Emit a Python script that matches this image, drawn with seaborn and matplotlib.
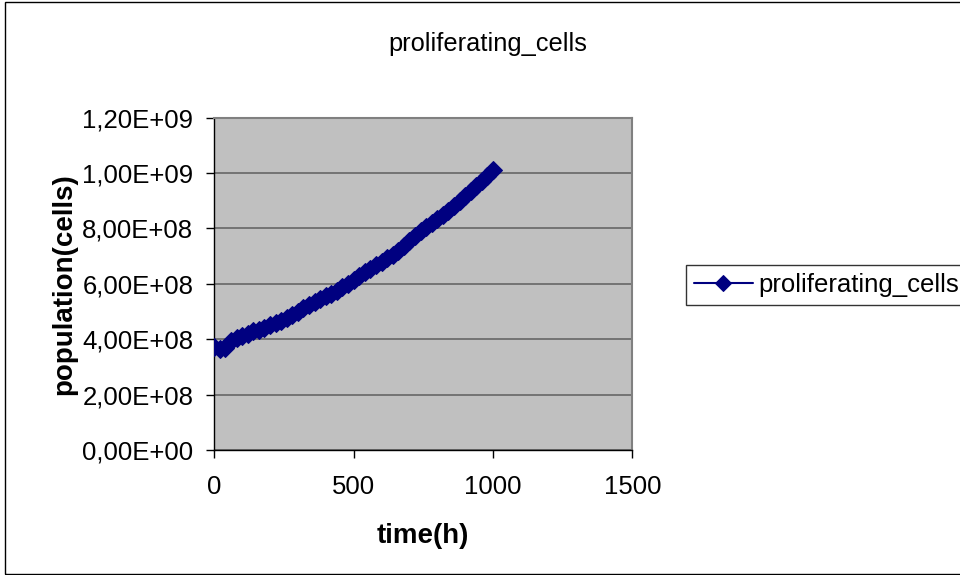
import matplotlib
matplotlib.use("Agg")
import matplotlib.pyplot as plt
from matplotlib.patches import Rectangle
from matplotlib.ticker import FuncFormatter, MultipleLocator
import seaborn as sns
import pandas as pd

# Simulated population of proliferating cells over time
time_h = [0, 20, 40, 60, 80, 100, 120, 140, 160, 180,
          200, 220, 240, 260, 280, 300, 320, 340, 360, 380,
          400, 420, 440, 460, 480, 500, 520, 540, 560, 580,
          600, 620, 640, 660, 680, 700, 720, 740, 760, 780,
          800, 820, 840, 860, 880, 900, 920, 940, 960, 980, 1000]
proliferating_cells = [3.71e8, 3.65e8, 3.70e8, 3.95e8, 4.05e8, 4.12e8, 4.20e8, 4.28e8, 4.35e8, 4.42e8,
                       4.50e8, 4.60e8, 4.66e8, 4.75e8, 4.88e8, 5.00e8, 5.12e8, 5.25e8, 5.35e8, 5.45e8,
                       5.55e8, 5.65e8, 5.75e8, 5.87e8, 6.00e8, 6.13e8, 6.28e8, 6.42e8, 6.55e8, 6.67e8,
                       6.80e8, 6.92e8, 7.05e8, 7.20e8, 7.38e8, 7.55e8, 7.72e8, 7.90e8, 8.06e8, 8.20e8,
                       8.34e8, 8.48e8, 8.62e8, 8.80e8, 8.98e8, 9.16e8, 9.34e8, 9.52e8, 9.70e8, 9.88e8, 1.01e9]

series_name = "proliferating_cells"
x_ticks = [0, 500, 1000, 1500]

df = pd.DataFrame({"time(h)": time_h, "population(cells)": proliferating_cells})

sns.set_style("white")
plt.rcParams["font.family"] = ["Liberation Sans", "DejaVu Sans"]
plt.rcParams["text.color"] = "black"
plt.rcParams["axes.labelcolor"] = "black"

fig = plt.figure(figsize=(9.6, 5.75), dpi=100)
ax = fig.add_axes([214.3 / 960, 1 - 450 / 575, (632.3 - 214.3) / 960, (450 - 117.7) / 575])
ax.set_facecolor("#C0C0C0")

navy = "#000080"
sns.lineplot(data=df, x="time(h)", y="population(cells)", ax=ax, color=navy,
             linewidth=5.5, marker="D", markersize=9, markeredgecolor=navy,
             label=series_name, zorder=3)

ax.set_xlim(0, 1500)
ax.set_ylim(0, 1.2e9)
ax.set_xticks(x_ticks)
ax.yaxis.set_major_locator(MultipleLocator(2e8))
ax.yaxis.set_major_formatter(FuncFormatter(lambda v, p: f"{v:.2E}".replace(".", ",")))

ax.grid(axis="y", color="#6E6E6E", linewidth=1.3)
ax.grid(axis="x", visible=False)
ax.set_axisbelow(True)

for side in ("left", "bottom"):
    ax.spines[side].set_color("black")
    ax.spines[side].set_linewidth(1.0)
for side in ("top", "right"):
    ax.spines[side].set_color("#808080")
    ax.spines[side].set_linewidth(1.5)

ax.tick_params(axis="both", direction="out", length=6, width=1, color="black",
               labelsize=18.5, colors="black")
ax.tick_params(axis="y", pad=9)
ax.tick_params(axis="x", pad=12)
ax.yaxis.set_ticks_position("left")
ax.xaxis.set_ticks_position("bottom")

ax.set_xlabel("time(h)", fontsize=20, fontweight="bold", labelpad=17)
ax.set_ylabel("population(cells)", fontsize=20, fontweight="bold", labelpad=4)

fig.text(0.508, 1 - 44 / 575, series_name, ha="center", va="center", fontsize=18.3)

ax.legend_.remove()
handles, labels = ax.get_legend_handles_labels()
leg = fig.legend(handles, labels, loc="center left", bbox_to_anchor=(686 / 960, 1 - 285 / 575),
                 fontsize=18.5, frameon=True, fancybox=False, edgecolor="black",
                 handlelength=2.3, borderpad=0.3, handletextpad=0.2, borderaxespad=0)
leg.get_frame().set_linewidth(1.0)
for h in leg.legend_handles:
    h.set_linewidth(1.5)
    h.set_markersize(8)

fig.patches.append(Rectangle((5 / 960, 1 / 575), 1.2, 1 - 3 / 575, transform=fig.transFigure,
                             fill=False, edgecolor="black", linewidth=1.0))

fig.savefig("out.png", dpi=100)
